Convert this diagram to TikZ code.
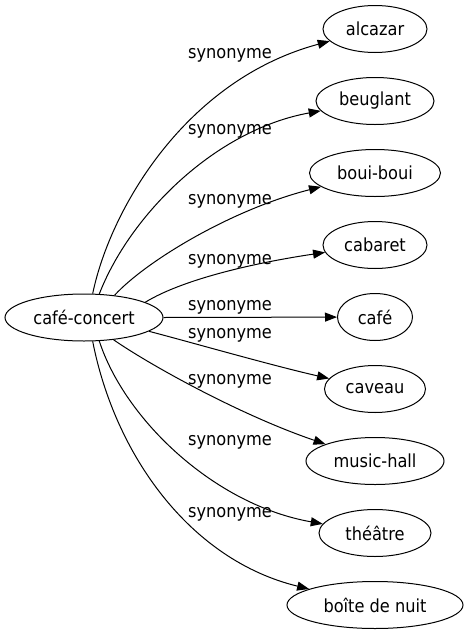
\documentclass[tikz,border=0pt]{standalone}
\usepackage{fontspec}
\setmainfont{DejaVu Sans Condensed}
\usetikzlibrary{arrows.meta,shapes.geometric}

\begin{document}
\begin{tikzpicture}[x=1pt,y=-1pt,
    word/.style={draw, ellipse, line width=1pt, inner sep=0pt, minimum height=47pt, font=\fontsize{18}{20}\selectfont},
    rel/.style={-{Triangle[length=12pt,width=9pt]}, line width=1pt},
    lbl/.style={inner sep=0pt, font=\fontsize{18}{20}\selectfont}]
  \useasboundingbox (0,0) rectangle (468,635);
  % source word
  \node[word, minimum width=158pt] (cc) at (84,317.5) {café-concert};
  % synonyms, one every 72pt
  \foreach \word/\name/\wid [count=\i] in {alcazar/al/104, beuglant/bg/118, boui-boui/bb/131, cabaret/cb/104, café/cf/75, caveau/cv/101, music-hall/mh/138, théâtre/th/112, boîte de nuit/bn/176}
  {
    \node[word, minimum width=\wid pt] (\name) at (375, {29+72*(\i-1)}) {\word};
  }
  % curved edges: anchor on source, two control points, label height
  \foreach \name/\from/\ax/\ay/\bx/\by/\ly in {al/70/110/210/185/80/55, bg/57/130/215/215/130/131, bb/36/145/262/230/210/201, cb/14/185/278/260/262/261, cv/-12/190/342/270/365/335, mh/-37/150/365/240/415/381, th/-57/125/420/215/505/442, bn/-70/115/455/190/560/514}
  {
    \draw[rel] (cc.\from) .. controls (\ax,\ay) and (\bx,\by) .. (\name);
    \node[lbl] (l_\name) at (230,\ly) {synonyme};
  }
  % straight edge
  \draw[rel] (cc.east) -- (cf);
  \node[lbl] (l_cf) at (230,307) {synonyme};
\end{tikzpicture}
\end{document}
